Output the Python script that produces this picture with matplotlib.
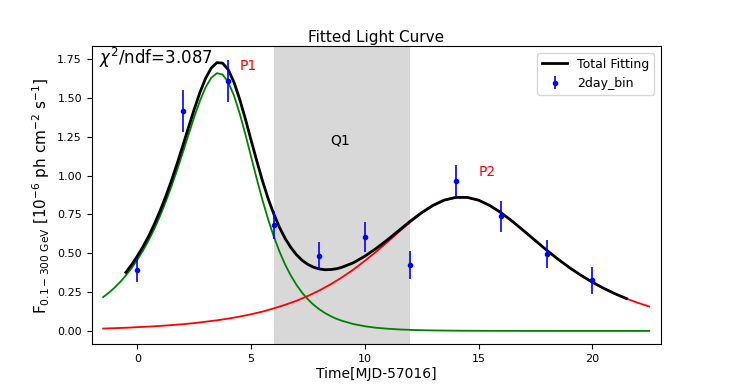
import matplotlib
matplotlib.use('Agg')
import matplotlib.pyplot as plt
import numpy as np

# 2-day binned light curve
bin_t = [0, 2, 4, 6, 8, 10, 12, 14, 16, 18, 20]
bin_flux = [0.39, 1.415, 1.61, 0.68, 0.485, 0.605, 0.425, 0.965, 0.737, 0.497, 0.325]
bin_err = [0.077, 0.137, 0.135, 0.09, 0.088, 0.097, 0.09, 0.105, 0.10, 0.09, 0.088]

# fitted components (quarter day around P1, half day elsewhere)
p1_t = np.concatenate([np.arange(-1.5, 9.01, 0.25), np.arange(9.5, 22.51, 0.5)])
p1_flux = [0.217, 0.246, 0.278, 0.315, 0.357, 0.404, 0.457, 0.516, 0.583, 0.657,
           0.740, 0.831, 0.930, 1.036, 1.148, 1.263, 1.376, 1.480, 1.568, 1.630,
           1.660, 1.651, 1.602, 1.516, 1.401, 1.267, 1.123, 0.980, 0.844, 0.719,
           0.608, 0.511, 0.427, 0.356, 0.296, 0.245, 0.203, 0.168, 0.139, 0.115,
           0.095, 0.078, 0.065,
           0.044, 0.030, 0.020, 0.014, 0.0095, 0.0064, 0.0044, 0.0030, 0.0020, 0.0014,
           0.0009, 0.0006, 0.0004, 0.0003, 0.0002, 0.0001, 0.0001, 0.0001,
           0, 0, 0, 0, 0, 0, 0, 0, 0]

p2_t = np.arange(-1.5, 22.51, 0.5)
p2_flux = [0.015, 0.0175, 0.020, 0.024, 0.0275, 0.032, 0.037, 0.043, 0.050, 0.059,
           0.068, 0.079, 0.092, 0.107, 0.124, 0.145, 0.168, 0.194, 0.225, 0.260,
           0.300, 0.345, 0.395, 0.451, 0.510, 0.573, 0.638, 0.700, 0.758, 0.806,
           0.841, 0.859, 0.859, 0.841, 0.807, 0.760, 0.704, 0.643, 0.581, 0.519,
           0.461, 0.407, 0.358, 0.314, 0.274, 0.239, 0.208, 0.181, 0.157]

total_t = np.concatenate([np.arange(-0.5, 9.01, 0.25), np.arange(9.5, 21.51, 0.5)])
total_flux = [0.377, 0.426, 0.481, 0.542, 0.610, 0.687, 0.772, 0.865, 0.967, 1.076,
              1.192, 1.310, 1.426, 1.534, 1.626, 1.693, 1.728, 1.725, 1.682, 1.602,
              1.493, 1.366, 1.230, 1.096, 0.968, 0.853, 0.753, 0.667, 0.595, 0.537,
              0.490, 0.454, 0.428, 0.410, 0.399, 0.394, 0.395, 0.400, 0.410,
              0.439, 0.481, 0.531, 0.587, 0.647, 0.707, 0.762, 0.809, 0.843, 0.860,
              0.860, 0.842, 0.807, 0.760, 0.704, 0.643, 0.581, 0.519, 0.461, 0.407,
              0.358, 0.314, 0.274, 0.239, 0.208]

quiet = (6, 12)


def main():
    fig, ax = plt.subplots(figsize=(7.34, 3.87), dpi=100)
    fig.subplots_adjust(left=0.125, right=0.9, bottom=0.11, top=0.88)

    ax.axvspan(quiet[0], quiet[1], color='gray', alpha=0.3, lw=0)
    ax.plot(p1_t, p1_flux, color='green', lw=1.3)
    ax.plot(p2_t, p2_flux, color='red', lw=1.3)
    ax.plot(total_t, total_flux, color='black', lw=2, label='Total Fitting')
    ax.errorbar(bin_t, bin_flux, yerr=bin_err, fmt='o', color='blue', ms=3,
                elinewidth=1.2, label='2day_bin')

    ax.text(-1.7, 1.72, r'$\chi^2$/ndf=3.087', fontsize=12, va='baseline')
    ax.text(4.5, 1.68, 'P1', color='red', fontsize=10, va='baseline')
    ax.text(15, 1.0, 'P2', color='red', fontsize=10, va='baseline')
    ax.text(8.5, 1.2, 'Q1', color='black', fontsize=10, va='baseline')

    ax.set_xlim(-2, 23)
    ax.set_xticks([0, 5, 10, 15, 20])
    ax.set_yticks([0, 0.25, 0.5, 0.75, 1.0, 1.25, 1.5, 1.75])
    ax.tick_params(labelsize=8)
    ax.set_xlabel('Time[MJD-57016]', fontsize=10, labelpad=2)
    ax.set_ylabel(r'F$_{0.1-300\ \rm{GeV}}$ [10$^{-6}$ ph cm$^{-2}$ s$^{-1}$]',
                  fontsize=11)
    ax.set_title('Fitted Light Curve', fontsize=11, pad=3)
    ax.legend(loc='upper right', fontsize=9)

    plt.savefig('out.png', dpi=100)


main()
